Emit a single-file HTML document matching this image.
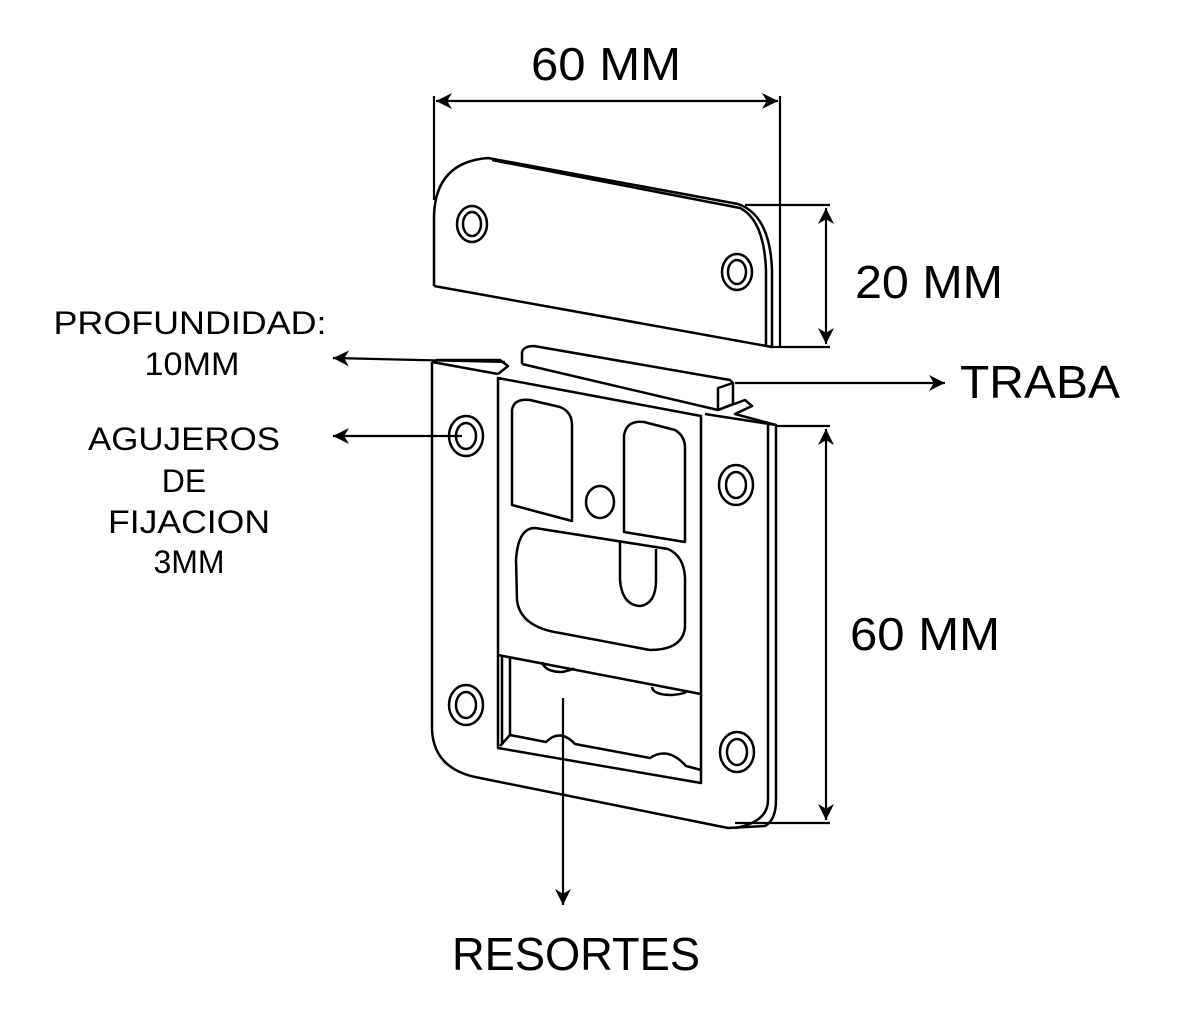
<!DOCTYPE html>
<html><head><meta charset="utf-8"><style>html,body{margin:0;padding:0;background:#fff}svg{display:block}</style></head>
<body>
<svg width="1180" height="1020" viewBox="0 0 1180 1020" xmlns="http://www.w3.org/2000/svg">
<defs>
<marker id="b" viewBox="0 0 10 10" refX="10" refY="5" markerWidth="16" markerHeight="16" markerUnits="userSpaceOnUse" orient="auto-start-reverse"><path d="M0,0 L10,5 L0,10 L3,5 z" fill="#000"/></marker>
</defs>
<g fill="none" stroke="#000" stroke-width="2.5" stroke-linejoin="round">
<!-- top plate -->
<path d="M434,286 L434,215 Q436,162 488,158 L738,204 Q770,215 772,270 L772,347 L434,286"/>
<path d="M492,160 L740,208 Q764,220 766,270 L766,346"/>
<ellipse cx="472" cy="224" rx="15" ry="18"/><ellipse cx="472" cy="224" rx="9" ry="12"/>
<ellipse cx="737" cy="272" rx="15" ry="18"/><ellipse cx="737" cy="272" rx="9" ry="12"/>
<!-- main plate -->
<path d="M432,362 L432,730 Q434,770 480,778 L728,828 L765,826 Q776,820 776,800 L776,425 L705,414"/>
<path d="M768,425 L768,800 Q768,822 735,828"/>
<path d="M432,362 L498,374"/>
<path d="M436,360 L500,360 L508,366 L498,374"/>
<path d="M522,364 L522,352 Q524,346 534,346 L730,380 L733,383 L733,404 L718,410 L522,364"/>
<path d="M718,410 L718,388 L733,383"/>
<path d="M718,410 L745,400 L752,406 L735,414 L776,425"/>
<!-- inner frame -->
<path d="M498,378 L701,416 L701,783 L498,748 Z"/>
<path d="M498,655 L701,694"/>
<path d="M502,657 L502,745"/>
<path d="M510,658 L510,735 L546,742 Q560,728 575,744 L650,758 Q668,746 686,766 L701,770"/>
<path d="M510,735 L500,746"/>
<path d="M542,662 Q545,672 562,672 Q572,670 574,668"/>
<path d="M652,687 Q653,695 672,695 Q683,694 686,692"/>
<!-- windows -->
<path d="M512,505 L512,410 Q514,398 530,400 L560,407 Q572,412 572,425 L572,521 Z"/>
<path d="M624,532 L624,436 Q626,420 644,422 L675,430 Q685,436 685,448 L685,542 Z"/>
<ellipse cx="600" cy="502" rx="14" ry="16"/>
<path d="M535,528 L668,549 Q684,556 685,578 L685,628 Q682,650 650,650 L560,633 Q520,627 517,600 L516,560 Q518,528 535,528 Z"/>
<path d="M620,541 L620,580 Q622,605 640,606 Q656,604 656,580 L656,549"/>
<!-- holes -->
<ellipse cx="466" cy="436" rx="17" ry="20"/><ellipse cx="466" cy="436" rx="10" ry="13"/>
<ellipse cx="736" cy="485" rx="17" ry="20"/><ellipse cx="736" cy="485" rx="10" ry="13"/>
<ellipse cx="466" cy="705" rx="17" ry="20"/><ellipse cx="466" cy="705" rx="10" ry="13"/>
<ellipse cx="737" cy="752" rx="17" ry="20"/><ellipse cx="737" cy="752" rx="10" ry="13"/>
</g>
<g fill="none" stroke="#000" stroke-width="2.2">
<path d="M434,96 L434,200 M780,96 L780,347"/>
<path d="M436,101 L778,101" marker-start="url(#b)" marker-end="url(#b)"/>
<path d="M745,205 L830,205 M772,347 L830,347"/>
<path d="M826,208 L826,344" marker-start="url(#b)" marker-end="url(#b)"/>
<path d="M776,426 L830,426 M735,823 L830,823"/>
<path d="M826,429 L826,820" marker-start="url(#b)" marker-end="url(#b)"/>
<path d="M735,383 L945,383" marker-end="url(#b)"/>
<path d="M505,362 L333,358" marker-end="url(#b)"/>
<path d="M462,436 L333,436" marker-end="url(#b)"/>
<path d="M563,698 L563,905" marker-end="url(#b)"/>
</g>
<g font-family="Liberation Sans, sans-serif" fill="#000">
<text x="606" y="80" font-size="46" text-anchor="middle" textLength="150" lengthAdjust="spacingAndGlyphs">60 MM</text>
<text x="929" y="298" font-size="46" text-anchor="middle" textLength="148" lengthAdjust="spacingAndGlyphs">20 MM</text>
<text x="1040" y="398" font-size="46" text-anchor="middle" textLength="160" lengthAdjust="spacingAndGlyphs">TRABA</text>
<text x="925" y="650" font-size="46" text-anchor="middle" textLength="150" lengthAdjust="spacingAndGlyphs">60 MM</text>
<text x="576" y="970" font-size="46" text-anchor="middle" textLength="248" lengthAdjust="spacingAndGlyphs">RESORTES</text>
<g font-size="32" text-anchor="middle">
<text x="190" y="334" textLength="273" lengthAdjust="spacingAndGlyphs">PROFUNDIDAD:</text>
<text x="192" y="375" textLength="95" lengthAdjust="spacingAndGlyphs">10MM</text>
<text x="184" y="450" textLength="192" lengthAdjust="spacingAndGlyphs">AGUJEROS</text>
<text x="184" y="492">DE</text>
<text x="189" y="533" textLength="162" lengthAdjust="spacingAndGlyphs">FIJACION</text>
<text x="189" y="573">3MM</text>
</g>
</g>
</svg>
</body></html>
